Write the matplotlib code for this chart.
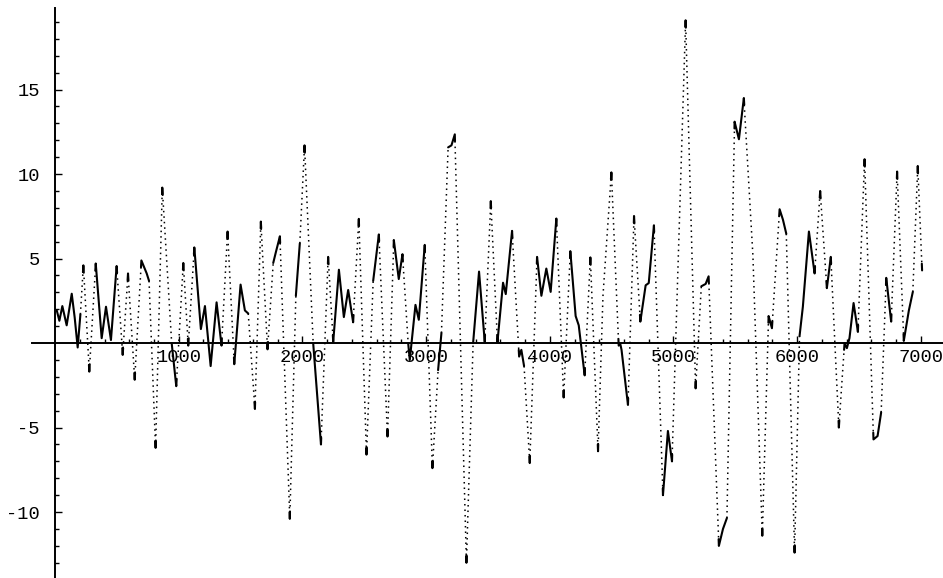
import numpy as np
import matplotlib.pyplot as plt

# points (x, value)
t = [14, 35, 59, 94, 135, 159, 183, 205, 229, 277, 329, 377, 412, 452, 498, 547, 590, 644,
     698, 741, 760, 813, 867, 943, 980, 1037, 1077, 1126, 1179, 1212, 1258, 1306, 1346, 1395,
     1449, 1500, 1535, 1562, 1616, 1664, 1718, 1764, 1785, 1818, 1898, 1947, 1979, 2017, 2087,
     2150, 2208, 2249, 2295, 2335, 2370, 2410, 2456, 2518, 2572, 2618, 2688, 2739, 2779, 2809,
     2855, 2868, 2914, 2941, 2989, 3051, 3097, 3124, 3178, 3205, 3232, 3326, 3380, 3428, 3474,
     3523, 3577, 3622, 3644, 3695, 3752, 3770, 3792, 3838, 3897, 3932, 3972, 4007, 4053, 4112,
     4166, 4209, 4234, 4282, 4328, 4390, 4430, 4498, 4557, 4570, 4580, 4632, 4681, 4732, 4775,
     4800, 4842, 4915, 4955, 4988, 5098, 5179, 5225, 5260, 5284, 5367, 5400, 5432, 5494, 5529,
     5569, 5642, 5718, 5769, 5796, 5858, 5885, 5912, 5979, 6019, 6046, 6095, 6141, 6186, 6240,
     6272, 6337, 6383, 6402, 6423, 6456, 6491, 6545, 6617, 6650, 6679, 6720, 6760, 6808, 6862,
     6903, 6935, 6975, 7010]
z = [1.93, 1.32, 2.19, 1.05, 2.92, 1.5, -0.26, 1.7, 4.6, -1.69, 4.71, 0.29, 2.15, 0.18, 4.56,
     -0.7, 4.12, -2.17, 4.89, 4.12, 3.68, -6.2, 9.2, 0.0, -2.55, 4.74, -0.15, 5.66, 0.83, 2.19,
     -1.36, 2.41, -0.15, 6.6, -1.25, 3.46, 1.93, 1.75, -3.9, 7.19, -0.37, 4.74, 5.37, 6.32,
     -10.4, 2.8, 5.9, 11.7, 0.0, -6.0, 5.1, 0.07, 4.34, 1.54, 3.14, 1.23, 7.35, -6.6, 3.68,
     6.43, -5.53, 6.1, 3.79, 5.26, 0.0, -1.0, 2.26, 1.38, 5.81, -7.4, -1.6, 0.6, 11.58, 11.7,
     12.35, -13.0, 0.0, 4.23, 0.07, 8.4, 0.07, 3.57, 2.9, 6.64, -0.8, -0.4, -1.36, -7.1, 5.1,
     2.8, 4.41, 3.03, 7.37, -3.22, 5.44, 1.6, 1.05, -1.91, 5.07, -6.4, 2.8, 10.1, -0.15, -0.05,
     -0.4, -3.66, 7.52, 1.27, 3.42, 3.55, 6.97, -9.0, -5.2, -7.0, 19.1, -2.68, 3.36, 3.5,
     3.95, -12.0, -11.0, -10.35, 13.1, 12.06, 14.5, 5.2, -11.4, 1.6, 0.88, 7.92, 7.3, 6.47,
     -12.4, 0.4, 2.15, 6.6, 4.12, 9.0, 3.25, 5.1, -5.0, 0.0, -0.3, 0.3, 2.37, 0.66, 10.88,
     -5.7, -5.5, -4.1, 3.86, 1.27, 10.15, 0.13, 1.93, 3.03, 10.48, 4.3]

xticks = [1000, 2000, 3000, 4000, 5000, 6000, 7000]
yticks = [-10, -5, 5, 10, 15]

fig = plt.figure(figsize=(9.43, 5.78), dpi=100)
ax = fig.add_axes([0, 0, 1, 1])
ax.set_xlim(-445, 7179)
ax.set_ylim(-13.9, 20.3)

# steep parts print as dots, flat parts and the tips as a solid line
steep = 0.1
cap = 0.4
n = len(t)
ext = [i == 0 or i == n - 1 or (z[i] - z[i-1]) * (z[i+1] - z[i]) <= 0 for i in range(n)]
pieces = []
for i in range(n - 1):
    x0, y0, x1, y1 = t[i], z[i], t[i+1], z[i+1]
    d = abs(y1 - y0)
    if d / (x1 - x0) < steep:
        pieces.append(('-', [x0, x1], [y0, y1]))
        continue
    fa = min(cap / d, 0.5) if ext[i] else 0
    fb = min(cap / d, 0.5) if ext[i+1] else 0
    xa, ya = x0 + fa * (x1 - x0), y0 + fa * (y1 - y0)
    xb, yb = x1 - fb * (x1 - x0), y1 - fb * (y1 - y0)
    if fa:
        pieces.append(('-', [x0, xa], [y0, ya]))
    pieces.append((':', [xa, xb], [ya, yb]))
    if fb:
        pieces.append(('-', [xb, x1], [yb, y1]))

runs = []
for st, xs, ys in pieces:
    if runs and runs[-1][0] == st:
        runs[-1][1].append(xs[1])
        runs[-1][2].append(ys[1])
    else:
        runs.append([st, list(xs), list(ys)])

for st, xs, ys in runs:
    if st == '-':
        ax.plot(xs, ys, color='black', lw=1.5, solid_joinstyle='round', solid_capstyle='round')
    else:
        ax.plot(xs, ys, color='black', lw=1.1, linestyle=(0, (1, 2.6)))

for s in ['top', 'right']:
    ax.spines[s].set_visible(False)
ax.spines['left'].set_position(('data', 0))
ax.spines['bottom'].set_position(('data', 0))
ax.spines['left'].set_bounds(-13.9, 19.8)
ax.spines['bottom'].set_bounds(-186, 7179)
for s in ['left', 'bottom']:
    ax.spines[s].set_linewidth(1.4)

ax.set_xticks(xticks)
ax.set_xticklabels([str(v) for v in xticks])
ax.set_xticks(np.arange(200, 7001, 200), minor=True)
ax.set_yticks(yticks)
ax.set_yticklabels([str(v) for v in yticks])
ax.set_yticks([v for v in range(-13, 20) if v % 5 != 0], minor=True)

ax.tick_params(which='both', direction='in', width=1.0, labelsize=13.5)
ax.tick_params(which='major', length=5)
ax.tick_params(which='minor', length=3)
ax.tick_params(axis='x', pad=4)
ax.tick_params(axis='y', pad=11)
for lab in ax.get_xticklabels() + ax.get_yticklabels():
    lab.set_fontfamily('Liberation Mono')

fig.savefig('out.png', dpi=100)
